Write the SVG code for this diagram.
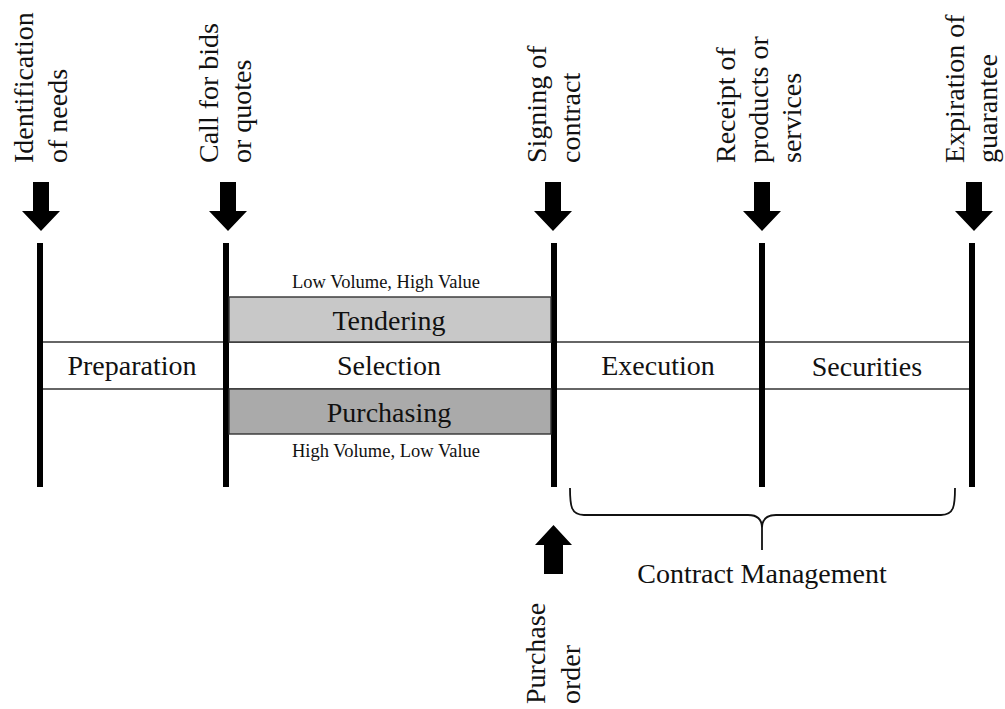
<svg xmlns="http://www.w3.org/2000/svg" width="1005" height="709" viewBox="0 0 1005 709">
  <defs>
    <path id="arrowDown" d="M-8,0 H8 V29 H19 L0,49 L-19,29 H-8 Z"/>
  </defs>
  <style>
    text { font-family: "Liberation Serif", "Times New Roman", serif; fill: #111; }
    .lbl { font-size: 28px; }
    .mid { text-anchor: middle; }
    .small { font-size: 18.5px; text-anchor: middle; }
    .bar { fill: #000; }
    .band { stroke: #333; stroke-width: 1.6; fill: none; }
    .arrow { fill: #000; }
    .brace { stroke: #111; stroke-width: 1.8; fill: none; }
  </style>
  <rect width="1005" height="709" fill="#fff"/>

  <!-- band lines -->
  <g id="band">
    <line class="band" x1="43" y1="342" x2="969" y2="342"/>
    <line class="band" x1="43" y1="389" x2="969" y2="389"/>
  </g>

  <!-- milestones -->
  <g id="m-identification">
    <rect class="bar" x="37" y="243" width="6" height="244"/>
    <text class="lbl" transform="translate(33,163) rotate(-90)">Identification<tspan x="0" dy="34">of needs</tspan></text>
  </g>
  <g id="m-call">
    <rect class="bar" x="223" y="243" width="6" height="244"/>
    <text class="lbl" transform="translate(218,163) rotate(-90)">Call for bids<tspan x="0" dy="33">or quotes</tspan></text>
  </g>
  <g id="m-signing">
    <rect class="bar" x="551" y="243" width="6" height="244"/>
    <text class="lbl" transform="translate(546,163) rotate(-90)">Signing of<tspan x="0" dy="34">contract</tspan></text>
  </g>
  <g id="m-receipt">
    <rect class="bar" x="759" y="243" width="6" height="244"/>
    <text class="lbl" transform="translate(735,163) rotate(-90)">Receipt of<tspan x="0" dy="33">products or</tspan><tspan x="0" dy="33">services</tspan></text>
  </g>
  <g id="m-expiration">
    <rect class="bar" x="969" y="243" width="6" height="244"/>
    <text class="lbl" transform="translate(964,163) rotate(-90)">Expiration of<tspan x="0" dy="33">guarantee</tspan></text>
  </g>

  <!-- phases -->
  <g id="p-preparation">
    <text class="lbl mid" x="132" y="375">Preparation</text>
  </g>
  <g id="p-tendering">
    <text class="small" x="386" y="288">Low Volume, High Value</text>
    <rect x="229" y="297" width="322" height="45" fill="#c8c8c8" stroke="#333" stroke-width="1.4"/>
    <text class="lbl mid" x="389" y="330">Tendering</text>
  </g>
  <g id="p-selection">
    <text class="lbl mid" x="389" y="375">Selection</text>
  </g>
  <g id="p-purchasing">
    <rect x="229" y="389" width="322" height="45" fill="#aaaaaa" stroke="#333" stroke-width="1.4"/>
    <text class="lbl mid" x="389" y="422">Purchasing</text>
    <text class="small" x="386" y="457">High Volume, Low Value</text>
  </g>
  <g id="p-execution">
    <text class="lbl mid" x="658" y="375">Execution</text>
  </g>
  <g id="p-securities">
    <text class="lbl mid" x="867" y="376">Securities</text>
  </g>

  <g id="contract-management">
    <path class="brace" d="M570,488 C570,506 571,515 584,515 L748,515 C758,515 762,520 762,528 L762,550 M762,528 C762,520 766,515 776,515 L941,515 C954,515 955,506 955,488"/>
    <text class="lbl mid" x="762" y="583">Contract Management</text>
  </g>

  <g id="purchase-order">
    <text class="lbl" transform="translate(545,704) rotate(-90)">Purchase<tspan x="0" dy="35">order</tspan></text>
  </g>

  <!-- connectors -->
  <g id="connectors">
    <use href="#arrowDown" class="arrow" x="41" y="182"/>
    <use href="#arrowDown" class="arrow" x="228" y="182"/>
    <use href="#arrowDown" class="arrow" x="553" y="182"/>
    <use href="#arrowDown" class="arrow" x="762" y="182"/>
    <use href="#arrowDown" class="arrow" x="974" y="182"/>
    <path class="arrow" d="M544,574 V545 H535 L553.5,525 L572,545 H563 V574 Z"/>
  </g>
</svg>
